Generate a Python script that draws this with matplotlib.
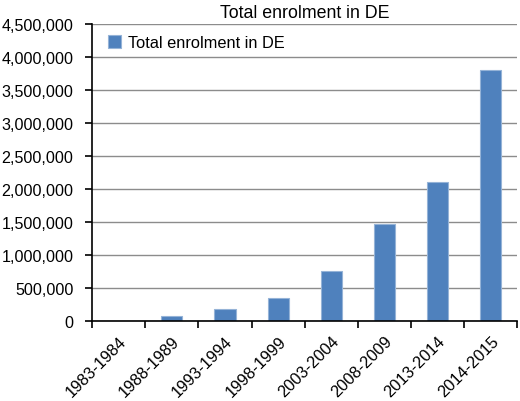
import matplotlib
matplotlib.use("Agg")
import matplotlib.pyplot as plt
from matplotlib.ticker import FuncFormatter, MultipleLocator
import numpy as np

categories = ["1983-1984", "1988-1989", "1993-1994", "1998-1999",
              "2003-2004", "2008-2009", "2013-2014", "2014-2015"]
enrolment = [0, 68000, 173000, 345000, 750000, 1470000, 2100000, 3800000]
series_name = "Total enrolment in DE"

plt.rcParams['font.family'] = ['Liberation Sans', 'DejaVu Sans']

fig = plt.figure(figsize=(5.2, 4.02), dpi=100)
ax = fig.add_axes([0.177, 0.2, 0.818, 0.738])

x = np.arange(len(categories))
ax.bar(x, enrolment, width=0.4, color='#4F81BD', edgecolor='#95B3D7',
       linewidth=0.8, label=series_name, zorder=3)

ax.set_xlim(-0.5, len(categories) - 0.5)
ax.set_ylim(0, 4500000)
ax.yaxis.set_major_locator(MultipleLocator(500000))
ax.yaxis.set_major_formatter(FuncFormatter(lambda v, p: f"{int(v):,}"))
ax.grid(axis='y', color='#8C8C8C', linewidth=1.0, zorder=0)

ax.set_xticks(x)
ax.set_xticklabels(categories, rotation=45, ha='right', rotation_mode='anchor')
ax.set_xticks(np.arange(-0.5, len(categories)), minor=True)
ax.tick_params(axis='x', which='major', length=0, pad=9, labelsize=11.8)
ax.tick_params(axis='x', which='minor', length=5, width=1.2, direction='out')
ax.tick_params(axis='y', length=5, width=1.2, labelsize=11.6, pad=8.5)

for s in ['top', 'right']:
    ax.spines[s].set_visible(False)
for s in ['left', 'bottom']:
    ax.spines[s].set_linewidth(1.2)
    ax.spines[s].set_zorder(4)

ax.set_title(series_name, fontsize=12.8, pad=5)
ax.legend(loc='upper left', frameon=False, fontsize=11.8, handlelength=0.8,
          handleheight=0.8, handletextpad=0.4, borderaxespad=0.3,
          bbox_to_anchor=(0.011, 1.0))

fig.savefig("out.png", dpi=100)
